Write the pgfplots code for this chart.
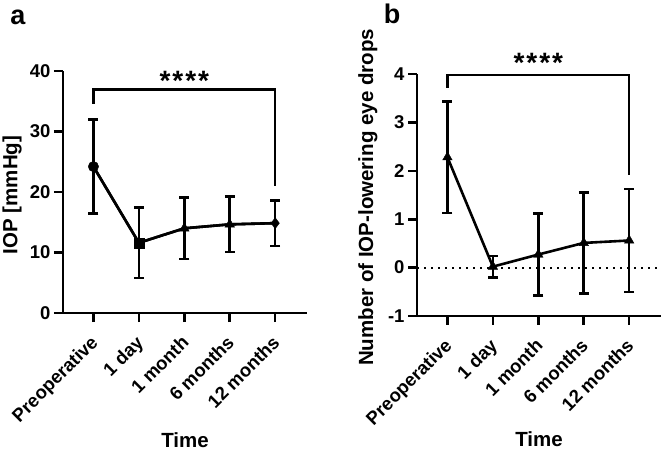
\documentclass[border=0pt]{standalone}
\usepackage{fontspec}
\setmainfont{Liberation Sans}
\usepackage{pgfplots}
\pgfplotsset{compat=1.18}
\usepackage{pgfplotstable}

% mean and SD per time point
\pgfplotstableread{
x y err cls
0 24.2 7.8 c
1 11.6 5.8 s
2 14.0 5.1 t
3 14.65 4.6 v
4 14.85 3.75 d
}\ioptable
\pgfplotstableread{
x y err
0 2.28 1.15
1 0.02 0.22
2 0.27 0.85
3 0.51 1.04
4 0.56 1.06
}\dropstable

\newcommand{\ticksize}{\bfseries\fontsize{18.5}{18.5}\selectfont}
\newcommand{\labsize}{\bfseries\fontsize{20.5}{20.5}\selectfont}

\pgfplotsset{
  panel/.style={
    scale only axis,
    width=244pt, height=242pt,
    anchor=south west,
    axis lines=left,
    axis line style={-, line width=2.6pt},
    tick align=outside,
    major tick length=9pt,
    every tick/.style={line width=2.6pt, black},
    xmin=-0.67, xmax=4.7,
    xtick={0,...,4},
    xticklabels={Preoperative,1 day,1 month,6 months,12 months},
    x tick label style={xshift=-4pt, yshift=-12pt, rotate=45, anchor=north east, font=\ticksize, inner sep=0pt},
    y tick label style={font=\ticksize},
    /pgf/number format/assume math mode=true,
    label style={font=\labsize},
    clip=false,
  },
  sdbars/.style={
    error bars/y dir=both, error bars/y explicit,
    error bars/error bar style={line width=2.6pt, black},
    error bars/error mark options={line width=2.6pt, black, mark size=5pt, rotate=90},
  },
}

\begin{document}
\begin{tikzpicture}[x=1pt,y=1pt]
\useasboundingbox (0,0) rectangle (662,453);

% panel a: IOP
\begin{axis}[panel, at={(63pt,140pt)},
  ymin=0, ymax=40, ytick={0,10,...,40},
  xlabel={Time}, ylabel={IOP [mmHg]},
  xlabel style={at={(axis description cs:0.5,-0.525)}, anchor=center},
  ylabel style={at={(axis description cs:-0.209,0.488)}, anchor=center},
]
\addplot[black, line width=2.6pt, sdbars, mark=none]
  table[x=x, y=y, y error=err] {\ioptable};
\addplot[black, line width=2.6pt,
  scatter, scatter src=explicit symbolic,
  mark options={line width=0.4pt, solid, fill=black},
  scatter/classes={
    c={mark=*, mark size=5.2pt, black},
    s={mark=square*, mark size=5pt, black},
    t={mark=triangle*, mark size=5.5pt, black},
    v={mark=triangle*, mark size=5.5pt, black, every mark/.append style={rotate=180}},
    d={mark=diamond*, mark size=5.5pt, black}}]
  table[x=x, y=y, meta=cls] {\ioptable};
% significance bracket
\draw[line width=2.6pt] (axis cs:0,34.6) -- (axis cs:0,36.9) -- (axis cs:4,36.9) -- (axis cs:4,21);
\node[font=\bfseries\fontsize{28}{28}\selectfont, anchor=center] at (axis cs:2,38.3)
  {*\kern2pt*\kern2pt*\kern2pt*};
\end{axis}

% panel b: eye drops
\begin{axis}[panel, at={(417pt,137pt)},
  ymin=-1, ymax=4, ytick={-1,0,...,4},
  xlabel={Time}, ylabel={Number of IOP-lowering eye drops},
  xlabel style={at={(axis description cs:0.5,-0.51)}, anchor=center},
  ylabel style={at={(axis description cs:-0.201,0.49)}, anchor=center},
]
\addplot[black, line width=2pt, dash pattern=on 2pt off 5pt, mark=none, forget plot]
  coordinates {(-0.67,0) (4.7,0)};
\addplot[black, line width=2.6pt, sdbars, mark=triangle*,
  mark options={line width=0.4pt, solid, fill=black, mark size=5.5pt}]
  table[x=x, y=y, y error=err] {\dropstable};
\draw[line width=2.6pt] (axis cs:0,3.72) -- (axis cs:0,3.98) -- (axis cs:4,3.98) -- (axis cs:4,1.92);
\node[font=\bfseries\fontsize{28}{28}\selectfont, anchor=center] at (axis cs:2,4.22)
  {*\kern2pt*\kern2pt*\kern2pt*};
\end{axis}

\node[font=\bfseries\fontsize{27}{27}\selectfont] at (18,436) {a};
\node[font=\bfseries\fontsize{27}{27}\selectfont] at (392,439) {b};
\end{tikzpicture}
\end{document}
